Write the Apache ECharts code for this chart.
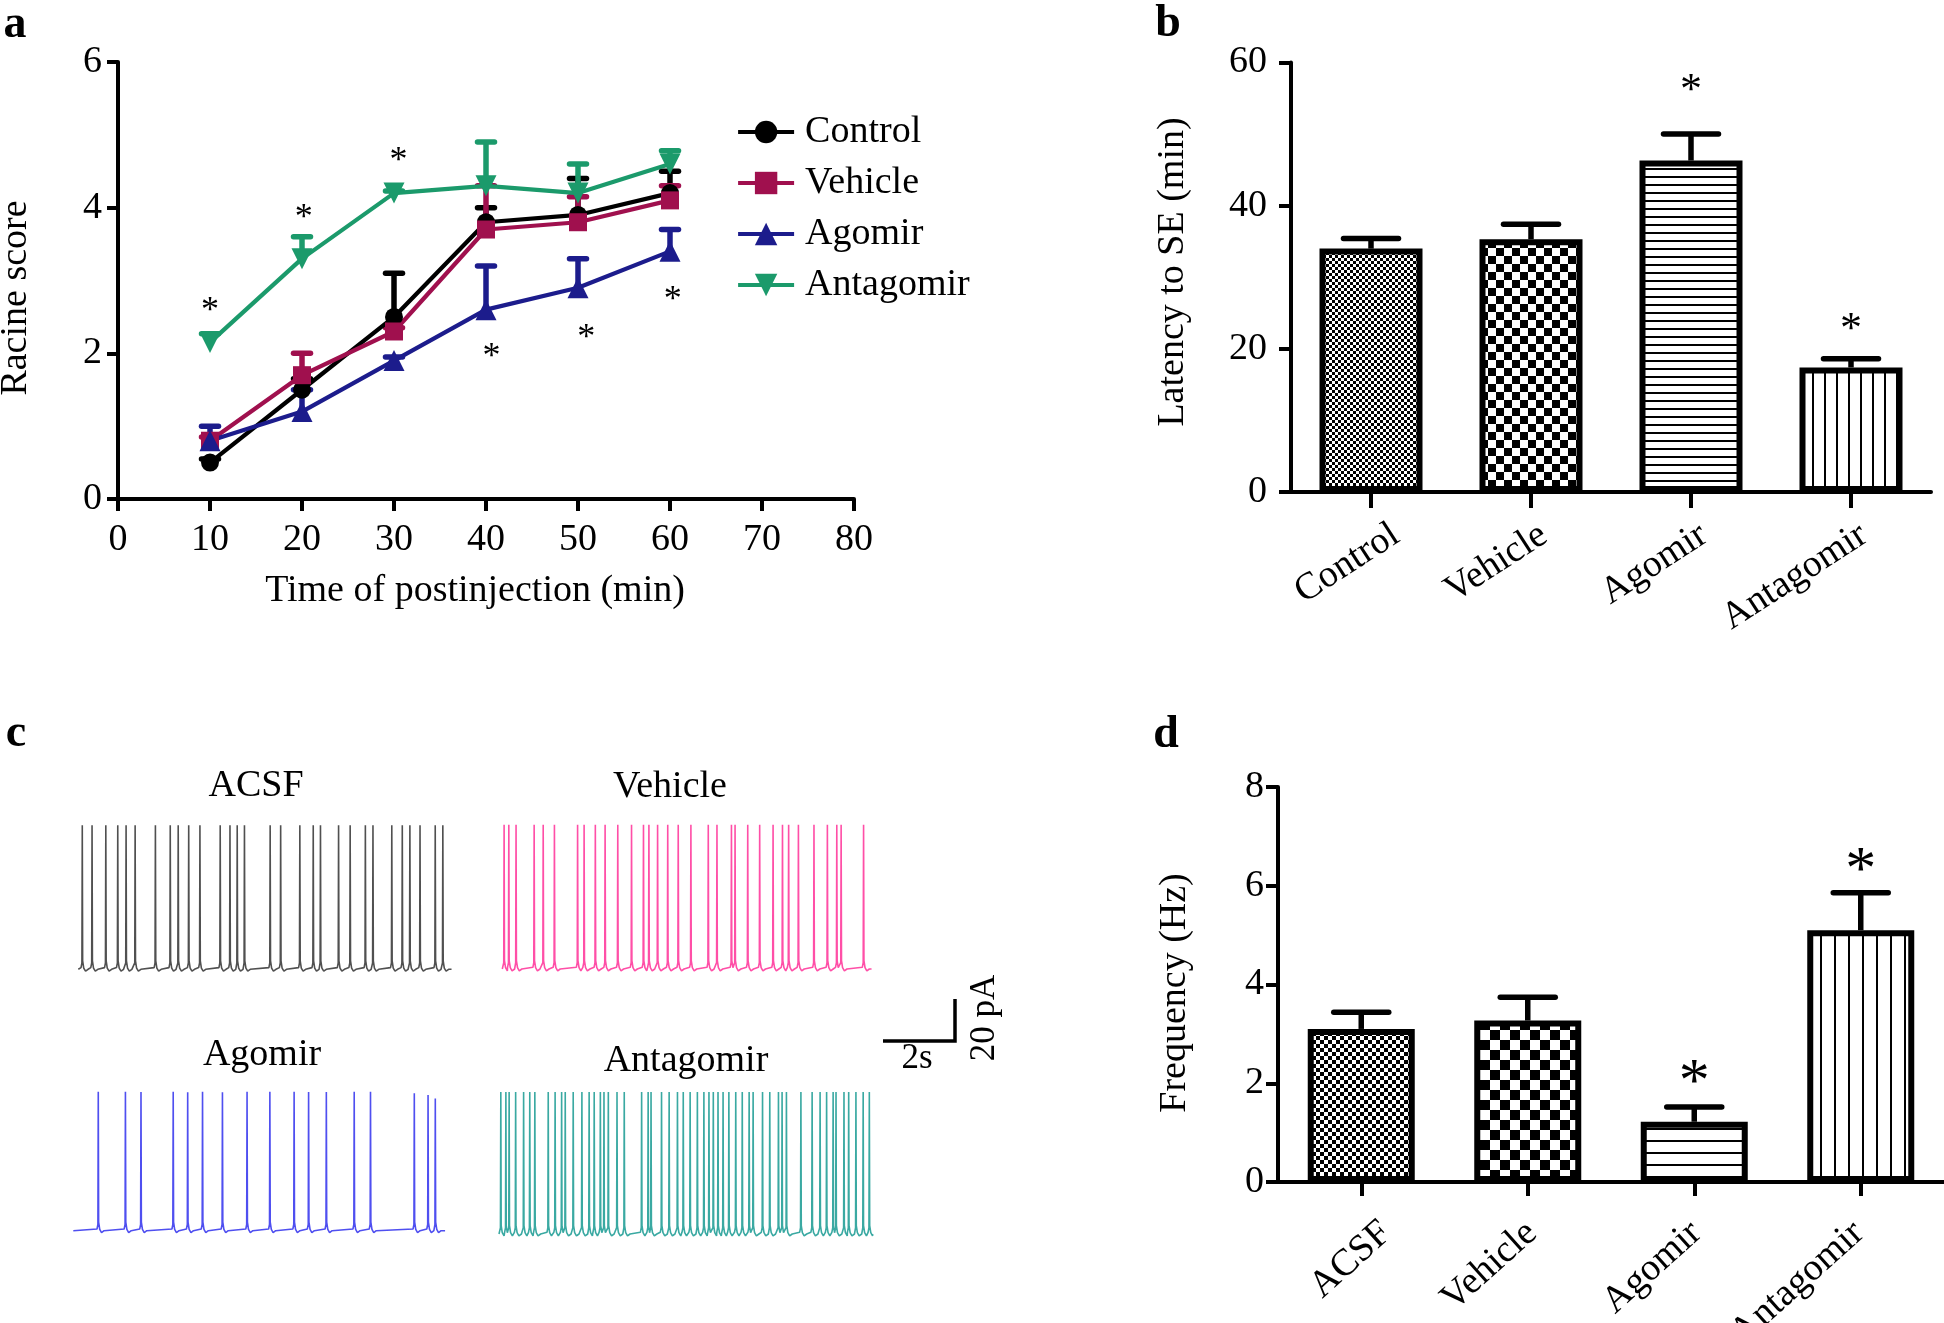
<!DOCTYPE html>
<html><head><meta charset="utf-8">
<script src="https://cdn.jsdelivr.net/npm/echarts@6.0.0/dist/echarts.min.js"></script>
<style>html,body{margin:0;padding:0;background:#fff}#c{width:1944px;height:1323px}</style>
</head><body><div id="c"></div>
<script>
// ---------------- DATA ----------------
// Panel a : Racine score vs time
const timeA = [10, 20, 30, 40, 50, 60];
const controlMean = [0.5, 1.5, 2.5, 3.8, 3.9, 4.2];
const controlSem = [0.05, 0.15, 0.6, 0.2, 0.5, 0.3];
const vehicleMean = [0.8, 1.7, 2.3, 3.7, 3.8, 4.1];
const vehicleSem = [0.05, 0.3, 0.05, 0.6, 0.35, 0.2];
const agomirMean = [0.8, 1.2, 1.9, 2.6, 2.9, 3.4];
const agomirSem = [0.2, 0.3, 0.05, 0.6, 0.4, 0.3];
const antagomirMean = [2.15, 3.3, 4.2, 4.3, 4.2, 4.6];
const antagomirSem = [0.12, 0.3, 0.03, 0.6, 0.4, 0.18];
const starAX = [10, 20.2, 30.5, 40.6, 50.9, 60.3];
const starAY = [2.65, 3.93, 4.72, 2.02, 2.28, 2.81];

// Panel b : latency to SE
const groupsB = ['Control', 'Vehicle', 'Agomir', 'Antagomir'];
const latencyMean = [34, 35.3, 46.3, 17.4];
const latencySem = [1.4, 2.1, 3.7, 1.2];
const starBX = [2, 3];
const starBY = [57, 23.5];

// Panel d : firing frequency
const groupsD = ['ACSF', 'Vehicle', 'Agomir', 'Antagomir'];
const freqMean = [3.1, 3.27, 1.22, 5.1];
const freqSem = [0.34, 0.47, 0.3, 0.76];
const starDX = [2, 3];
const starDY = [2.2, 6.48];

// Panel c : spike times (s) and amplitudes (pA)
const acsfSpikes = [0.11,0.38,0.76,1.09,1.32,1.57,2.13,2.54,2.76,3.05,3.36,3.92,4.19,4.39,4.59,5.30,5.59,6.12,6.49,6.69,7.19,7.51,7.93,8.14,8.66,8.95,9.16,9.44,9.86,10.07];
const vehicleSpikes = [0.05,0.18,0.38,0.88,1.13,1.44,2.08,2.26,2.57,2.84,3.19,3.57,3.90,4.05,4.29,4.57,4.86,5.21,5.69,5.93,6.33,6.43,6.78,7.11,7.48,7.74,7.91,8.18,8.61,8.98,9.24,9.36,9.98];
const agomirSpikes = [0.69,1.44,1.87,2.76,3.16,3.57,4.12,4.80,5.43,6.10,6.50,6.99,7.76,8.21,9.42,9.80,10.00];
const antagomirSpikes = [0.05,0.19,0.28,0.46,0.68,0.85,0.99,1.36,1.55,1.73,1.83,2.05,2.29,2.49,2.63,2.80,2.90,3.02,3.26,3.46,3.94,4.12,4.20,4.49,4.70,4.93,5.09,5.28,5.48,5.66,5.80,5.92,6.05,6.19,6.35,6.54,6.72,6.91,7.02,7.28,7.48,7.72,7.82,7.94,8.34,8.65,8.87,9.05,9.23,9.31,9.53,9.66,9.86,10.06,10.23];
const acsfPeak = 68;
const vehiclePeak = 68;
const agomirPeaks = [65.6,65.6,65.4,65.6,65.3,65.6,65.3,65.6,65.6,65.6,65.4,65.4,65.6,65.6,64.8,64.0,62.3];
const antagomirPeak = 67;
const traceDur = [10.31, 10.20, 10.27, 10.32]; // ACSF, Vehicle, Agomir, Antagomir

// ---------------- STYLE / HELPERS ----------------
const FONT = '"Liberation Serif", "Times New Roman", serif';
const PXS = 36.2;   // px per second in panel c
const PXPA = 2.12;  // px per pA in panel c

function pattern(kind, size) {
  const c = document.createElement('canvas');
  const ctx = c.getContext('2d');
  if (kind === 'checker') {
    c.width = c.height = size * 2;
    ctx.fillStyle = '#fff'; ctx.fillRect(0, 0, size * 2, size * 2);
    ctx.fillStyle = '#000'; ctx.fillRect(0, 0, size, size); ctx.fillRect(size, size, size, size);
  } else if (kind === 'hline') {
    c.width = 4; c.height = size;
    ctx.fillStyle = '#fff'; ctx.fillRect(0, 0, 4, size);
    ctx.fillStyle = '#000'; ctx.fillRect(0, 0, 4, 2);
  } else {
    c.width = size; c.height = 4;
    ctx.fillStyle = '#fff'; ctx.fillRect(0, 0, size, 4);
    ctx.fillStyle = '#000'; ctx.fillRect(0, 0, 2, 4);
  }
  return { image: c, repeat: 'repeat' };
}
const patB = [pattern('checker', 3), pattern('checker', 8), pattern('hline', 8), pattern('vline', 12)];
const patD = [pattern('checker', 4), pattern('checker', 10), pattern('hline', 12), pattern('vline', 14)];

function buildTrace(spikes, peaks, dur) {
  const pts = [[0, 0]];
  spikes.forEach((t, i) => {
    const A = Array.isArray(peaks) ? peaks[i] : peaks;
    const nextT = i + 1 < spikes.length ? spikes[i + 1] : dur + 1;
    const seq = [[t - 0.035, 0.8, 'pre'], [t - 0.01, 3, 'pre'], [t, A, 'pk'], [t + 0.01, 4, 'post'],
                 [t + 0.04, 0.6, 'post'], [t + 0.09, -0.9, 'post'], [t + 0.16, 0, 'post']];
    seq.forEach(p => {
      if (p[2] === 'post' && p[0] >= nextT - 0.036) return;
      if (p[0] <= pts[pts.length - 1][0]) return;
      if (p[0] < 0 || p[0] > dur) return;
      pts.push([p[0], p[1]]);
    });
  });
  pts.push([dur, 0]);
  return pts;
}

function axisCommon(lw, tickLen) {
  return {
    axisLine: { show: true, onZero: false, lineStyle: { color: '#000', width: lw } },
    axisTick: { show: true, length: tickLen, lineStyle: { color: '#000', width: lw } },
    splitLine: { show: false }
  };
}

function errRender(color, lw, capW) {
  return function (params, api) {
    const x = api.value(0), m = api.value(1), s = api.value(2);
    const p0 = api.coord([x, m]), p1 = api.coord([x, m + s]);
    return {
      type: 'group', children: [
        { type: 'line', shape: { x1: p0[0], y1: p0[1], x2: p1[0], y2: p1[1] }, style: { stroke: color, lineWidth: lw } },
        { type: 'line', shape: { x1: p1[0] - capW / 2, y1: p1[1], x2: p1[0] + capW / 2, y2: p1[1] }, style: { stroke: color, lineWidth: lw, lineCap: 'round' } }
      ]
    };
  };
}
function starRender(fs, dy) {
  return function (params, api) {
    const p = api.coord([api.value(0), api.value(1)]);
    return { type: 'text', x: p[0], y: p[1] + dy,
      style: { text: '*', font: fs + 'px ' + FONT, fill: '#000', align: 'center', verticalAlign: 'middle', textAlign: 'center', textVerticalAlign: 'middle' } };
  };
}
function catLabelRender(names, dxs, dy, deg) {
  return function (params, api) {
    const i = api.value(0);
    const p = api.coord([i, 0]);
    return { type: 'text', x: p[0] + dxs[i], y: p[1] + dy, rotation: deg * Math.PI / 180,
      style: { text: names[i], font: '38px ' + FONT, fill: '#000', align: 'right', verticalAlign: 'middle', textAlign: 'right', textVerticalAlign: 'middle' } };
  };
}

// ---------------- GRIDS ----------------
const traceGrids = [
  { x0: 78.3, base: 969.3, amp: acsfPeak },
  { x0: 502.3, base: 969, amp: vehiclePeak },
  { x0: 73.3, base: 1230.7, amp: Math.max(...agomirPeaks) },
  { x0: 499, base: 1234, amp: antagomirPeak }
];
const grids = [
  { left: 118, top: 62, width: 736, height: 437 },     // a
  { left: 1291, top: 62.5, width: 640, height: 429.5 }, // b
  { left: 1278, top: 787, width: 666, height: 395 }     // d
];
traceGrids.forEach((g, i) => {
  grids.push({ left: g.x0, top: g.base - g.amp * PXPA, width: traceDur[i] * PXS, height: g.amp * PXPA });
});
grids.forEach(g => { g.outerBoundsMode = 'none'; g.containLabel = false; });

const lblStyle = { color: '#000', fontSize: 38, fontFamily: FONT };

const xAxes = [
  Object.assign({ gridIndex: 0, type: 'value', min: 0, max: 80, interval: 10,
    axisLabel: Object.assign({ margin: 22 }, lblStyle) }, axisCommon(4, 12)),
  Object.assign({ gridIndex: 1, type: 'category', data: groupsB, axisLabel: { show: false } }, axisCommon(4, 16),
    { axisTick: { show: true, alignWithLabel: true, length: 16, lineStyle: { color: '#000', width: 4 } } }),
  Object.assign({ gridIndex: 2, type: 'category', data: groupsD, axisLabel: { show: false } }, axisCommon(4, 14),
    { axisTick: { show: true, alignWithLabel: true, length: 14, lineStyle: { color: '#000', width: 4 } } })
];
const yAxes = [
  Object.assign({ gridIndex: 0, type: 'value', min: 0, max: 6, interval: 2, axisLabel: Object.assign({ margin: 16 }, lblStyle) }, axisCommon(4, 11)),
  Object.assign({ gridIndex: 1, type: 'value', min: 0, max: 60, interval: 20, axisLabel: Object.assign({ margin: 24 }, lblStyle) }, axisCommon(4, 12)),
  Object.assign({ gridIndex: 2, type: 'value', min: 0, max: 8, interval: 2, axisLabel: Object.assign({ margin: 14 }, lblStyle) }, axisCommon(4, 12))
];
traceGrids.forEach((g, i) => {
  xAxes.push({ gridIndex: 3 + i, type: 'value', min: 0, max: traceDur[i], show: false });
  yAxes.push({ gridIndex: 3 + i, type: 'value', min: 0, max: g.amp, show: false });
});

// ---------------- SERIES ----------------
const series = [];
const groupsA = [
  { name: 'Control', mean: controlMean, sem: controlSem, color: '#000000', symbol: 'circle', size: 18, rot: 0 },
  { name: 'Vehicle', mean: vehicleMean, sem: vehicleSem, color: '#a0104e', symbol: 'rect', size: 18, rot: 0 },
  { name: 'Agomir', mean: agomirMean, sem: agomirSem, color: '#1c1c8c', symbol: 'triangle', size: 21, rot: 0 },
  { name: 'Antagomir', mean: antagomirMean, sem: antagomirSem, color: '#1b9a6b', symbol: 'triangle', size: 21, rot: 180 }
];
groupsA.forEach(g => {
  series.push({ type: 'custom', name: g.name + ' SEM', xAxisIndex: 0, yAxisIndex: 0, silent: true,
    data: timeA.map((t, i) => [t, g.mean[i], g.sem[i]]), renderItem: errRender(g.color, 5.5, 17) });
  series.push({ type: 'line', name: g.name, xAxisIndex: 0, yAxisIndex: 0,
    data: timeA.map((t, i) => [t, g.mean[i]]), symbol: g.symbol, symbolSize: g.size, symbolRotate: g.rot,
    showSymbol: true, lineStyle: { color: g.color, width: 4.2 }, itemStyle: { color: g.color }, clip: false });
});
series.push({ type: 'custom', name: 'starsA', xAxisIndex: 0, yAxisIndex: 0, silent: true,
  data: starAX.map((x, i) => [x, starAY[i]]), renderItem: starRender(36, 6) });

// panel b
series.push({ type: 'bar', name: 'latency', xAxisIndex: 1, yAxisIndex: 1, barWidth: 103,
  itemStyle: { borderColor: '#000', borderWidth: 6 },
  data: latencyMean.map((v, i) => ({ value: v, itemStyle: { color: patB[i] } })) });
series.push({ type: 'custom', name: 'latency SEM', xAxisIndex: 1, yAxisIndex: 1, z: 3, silent: true,
  data: latencyMean.map((v, i) => [i, v, latencySem[i]]), renderItem: errRender('#000', 5.5, 55) });
series.push({ type: 'custom', name: 'starsB', xAxisIndex: 1, yAxisIndex: 1, silent: true,
  data: starBX.map((x, i) => [x, starBY[i]]), renderItem: starRender(44, 7) });
series.push({ type: 'custom', name: 'labelsB', xAxisIndex: 1, yAxisIndex: 1, silent: true,
  data: groupsB.map((g, i) => [i, 0]), renderItem: catLabelRender(groupsB, [25, 13, 13, 13], 40, 33) });

// panel d
series.push({ type: 'bar', name: 'frequency', xAxisIndex: 2, yAxisIndex: 2, barWidth: 107,
  itemStyle: { borderColor: '#000', borderWidth: 6 },
  data: freqMean.map((v, i) => ({ value: v, itemStyle: { color: patD[i] } })) });
series.push({ type: 'custom', name: 'freq SEM', xAxisIndex: 2, yAxisIndex: 2, z: 3, silent: true,
  data: freqMean.map((v, i) => [i, v, freqSem[i]]), renderItem: errRender('#000', 5.5, 55) });
series.push({ type: 'custom', name: 'starsD', xAxisIndex: 2, yAxisIndex: 2, silent: true,
  data: starDX.map((x, i) => [x, starDY[i]]), renderItem: starRender(62, 10) });
series.push({ type: 'custom', name: 'labelsD', xAxisIndex: 2, yAxisIndex: 2, silent: true,
  data: groupsD.map((g, i) => [i, 0]), renderItem: catLabelRender(groupsD, [25, 4, 2, -2], 46, 42) });

// panel c traces
const traceData = [
  buildTrace(acsfSpikes, acsfPeak, traceDur[0]),
  buildTrace(vehicleSpikes, vehiclePeak, traceDur[1]),
  buildTrace(agomirSpikes, agomirPeaks, traceDur[2]),
  buildTrace(antagomirSpikes, antagomirPeak, traceDur[3])
];
const traceColors = ['#505050', '#ff4fa7', '#4f4ff0', '#3aa9a2'];
traceData.forEach((d, i) => {
  series.push({ type: 'line', name: 'trace' + i, xAxisIndex: 3 + i, yAxisIndex: 3 + i, data: d,
    showSymbol: false, symbol: 'none', clip: false, silent: true, sampling: null,
    lineStyle: { color: traceColors[i], width: 1.6 } });
});

// ---------------- GRAPHIC TEXT ----------------
function txt(text, x, y, size, opts) {
  opts = opts || {};
  return { type: 'text', x: x, y: y, rotation: opts.rot || 0, silent: true,
    style: { text: text, font: (opts.bold ? 'bold ' : '') + size + 'px ' + FONT, fill: '#000',
      align: opts.align || 'center', verticalAlign: 'middle', textAlign: opts.align || 'center', textVerticalAlign: 'middle' } };
}
const graphic = [
  txt('a', 15, 25, 46, { bold: true }),
  txt('b', 1168, 24, 46, { bold: true }),
  txt('c', 16, 734, 46, { bold: true }),
  txt('d', 1166, 735, 46, { bold: true }),
  txt('Racine score', 16, 298, 38, { rot: Math.PI / 2 }),
  txt('Time of postinjection (min)', 475, 591, 38),
  txt('Latency to SE (min)', 1173, 272, 38, { rot: Math.PI / 2 }),
  txt('Frequency (Hz)', 1175, 993, 38, { rot: Math.PI / 2 }),
  txt('ACSF', 256, 786, 38),
  txt('Vehicle', 670, 787, 38),
  txt('Agomir', 262, 1055, 38),
  txt('Antagomir', 686, 1061, 38),
  txt('2s', 917, 1059, 35),
  txt('20 pA', 985, 1018, 35, { rot: Math.PI / 2 }),
  { type: 'polyline', silent: true, shape: { points: [[883, 1041], [955, 1041], [955, 999]] },
    style: { stroke: '#000', lineWidth: 3.5, fill: null } }
];

const chart = echarts.init(document.getElementById('c'), null, { renderer: 'canvas' });
chart.setOption({
  animation: false,
  backgroundColor: '#fff',
  grid: grids,
  xAxis: xAxes,
  yAxis: yAxes,
  legend: {
    data: ['Control', 'Vehicle', 'Agomir', 'Antagomir'],
    orient: 'vertical', left: 736, top: 113, padding: 0,
    itemWidth: 56, itemHeight: 28, itemGap: 13,
    selectedMode: false,
    lineStyle: { width: 4.2 },
    textStyle: { color: '#000', fontSize: 38, fontFamily: FONT, lineHeight: 38, padding: [0, 0, 0, 6] }
  },
  tooltip: { show: false },
  series: series,
  graphic: graphic
});
</script>
</body></html>
